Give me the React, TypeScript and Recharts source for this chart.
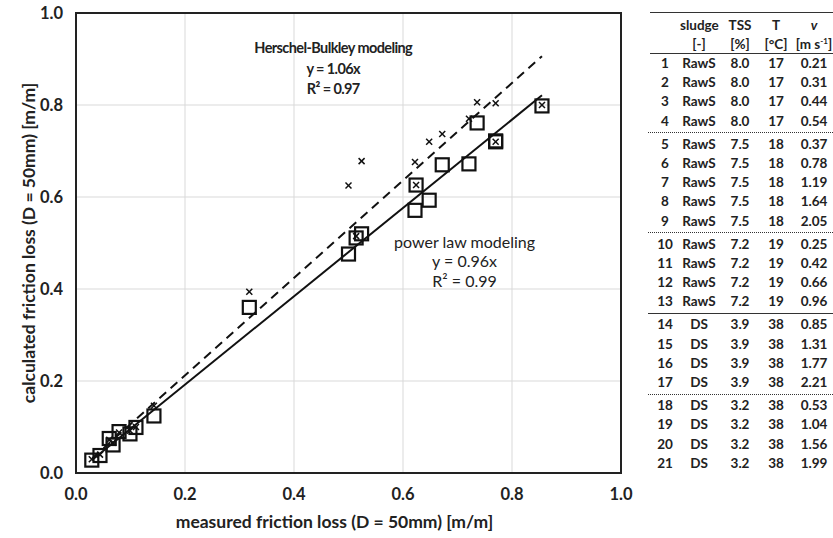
import React from 'react';
import {
  ComposedChart,
  Scatter,
  XAxis,
  YAxis,
  CartesianGrid,
  ReferenceLine,
  ReferenceArea,
  ReferenceDot,
  Label,
} from 'recharts';

// ---------- chart data ----------
const measured = [0.029, 0.044, 0.061, 0.068, 0.079, 0.099, 0.11, 0.143, 0.318, 0.5, 0.514, 0.524, 0.622, 0.624, 0.648, 0.672, 0.721, 0.736, 0.77, 0.77, 0.855];
const powerLaw = [0.028, 0.038, 0.075, 0.061, 0.09, 0.085, 0.099, 0.124, 0.36, 0.476, 0.511, 0.52, 0.571, 0.626, 0.593, 0.67, 0.672, 0.761, 0.72, 0.722, 0.798];
const herschel = [0.03, 0.04, 0.072, 0.066, 0.088, 0.092, 0.1, 0.146, 0.394, 0.625, 0.515, 0.678, 0.676, 0.626, 0.72, 0.737, 0.77, 0.806, 0.804, 0.72, 0.8];

const hbFitX = [0.03, 0.855];
const hbFitY = [0.032, 0.906];
const plFitX = [0.03, 0.855];
const plFitY = [0.029, 0.821];

const axisTicks = [0, 0.2, 0.4, 0.6, 0.8, 1.0];

const hbTitle = 'Herschel-Bulkley modeling';
const hbEq = 'y = 1.06x';
const hbR2 = 'R\u00b2 = 0.97';
const plTitle = 'power law modeling';
const plEq = 'y = 0.96x';
const plR2 = 'R\u00b2 = 0.99';

const xTitle = 'measured friction loss (D = 50mm) [m/m]';
const yTitle = 'calculated friction loss (D = 50mm) [m/m]';

// ---------- table data ----------
const rowNo = ['1', '2', '3', '4', '5', '6', '7', '8', '9', '10', '11', '12', '13', '14', '15', '16', '17', '18', '19', '20', '21'];
const sludge = ['RawS', 'RawS', 'RawS', 'RawS', 'RawS', 'RawS', 'RawS', 'RawS', 'RawS', 'RawS', 'RawS', 'RawS', 'RawS', 'DS', 'DS', 'DS', 'DS', 'DS', 'DS', 'DS', 'DS'];
const tss = ['8.0', '8.0', '8.0', '8.0', '7.5', '7.5', '7.5', '7.5', '7.5', '7.2', '7.2', '7.2', '7.2', '3.9', '3.9', '3.9', '3.9', '3.2', '3.2', '3.2', '3.2'];
const temp = ['17', '17', '17', '17', '18', '18', '18', '18', '18', '19', '19', '19', '19', '38', '38', '38', '38', '38', '38', '38', '38'];
const velocity = ['0.21', '0.31', '0.44', '0.54', '0.37', '0.78', '1.19', '1.64', '2.05', '0.25', '0.42', '0.66', '0.96', '0.85', '1.31', '1.77', '2.21', '0.53', '1.04', '1.56', '1.99'];
const groupEnds = [4, 9, 13, 17];
const groupStyles = ['dotted', 'dotted', 'solid', 'dotted'];

const FONT = 'Lato, "Open Sans", sans-serif';
const INK = '#222';

const SquareShape = (props: any) => {
  const { cx, cy } = props;
  if (cx == null || cy == null) return null;
  return <rect x={cx - 6.5} y={cy - 6.5} width={13} height={13} fill="none" stroke="#111" strokeWidth={2.2} />;
};

const CrossShape = (props: any) => {
  const { cx, cy } = props;
  if (cx == null || cy == null) return null;
  const s = 3;
  return (
    <g stroke="#111" strokeWidth={1.5}>
      <line x1={cx - s} y1={cy - s} x2={cx + s} y2={cy + s} />
      <line x1={cx - s} y1={cy + s} x2={cx + s} y2={cy - s} />
    </g>
  );
};

const makeNote = (lines: string[], weight: string | number, size: number, gap: number, spacing: number) => (p: any) => {
  const vb = p.viewBox || {};
  const cx = (vb.x || 0) + (vb.width || 0) / 2;
  const cy = (vb.y || 0) + (vb.height || 0) / 2;
  return (
    <g>
      {lines.map((t, i) => (
        <text
          key={i}
          x={cx}
          y={cy + i * gap}
          textAnchor="middle"
          dominantBaseline="central"
          fontFamily={FONT}
          fontWeight={weight}
          fontSize={size}
          letterSpacing={spacing}
          fill={INK}
        >
          {t}
        </text>
      ))}
    </g>
  );
};

const XTitle = (p: any) => {
  const vb = p.viewBox || {};
  return (
    <text
      x={vb.x + vb.width / 2 - 14}
      y={vb.y + 55}
      textAnchor="middle"
      fontFamily={FONT}
      fontWeight={700}
      fontSize={17.5}
      fill={INK}
    >
      {xTitle}
    </text>
  );
};

const YTitle = (p: any) => {
  const vb = p.viewBox || {};
  const cx = 28;
  const cy = vb.y + vb.height / 2;
  return (
    <text
      x={cx}
      y={cy}
      transform={`rotate(-90, ${cx}, ${cy})`}
      textAnchor="middle"
      dominantBaseline="central"
      fontFamily={FONT}
      fontWeight={700}
      fontSize={17.5}
      fill={INK}
    >
      {yTitle}
    </text>
  );
};

const Cell = ({ w, children, style }: any) => (
  <div style={{ width: w, textAlign: 'center', flex: 'none', whiteSpace: 'nowrap', ...style }}>{children}</div>
);

const COLS = [10, 30, 38, 44, 28, 48];

const Row = ({ cells, height, style }: any) => (
  <div style={{ display: 'flex', height, lineHeight: `${height}px`, ...style }}>
    <Cell w={COLS[0]} />
    {cells.map((c: any, i: number) => (
      <Cell key={i} w={COLS[i + 1]}>
        {c}
      </Cell>
    ))}
  </div>
);

const DataTable = () => {
  const items: any[] = [];
  rowNo.forEach((n, i) => {
    items.push(<Row key={`r${i}`} height={19.2} cells={[n, sludge[i], tss[i], temp[i], velocity[i]]} />);
    const g = groupEnds.indexOf(i + 1);
    if (g >= 0) {
      items.push(
        <div key={`s${i}`} style={{ height: 4, position: 'relative' }}>
          <div
            style={{
              position: 'absolute',
              left: 8,
              right: 0,
              top: 1.5,
              borderTop: `1.5px ${groupStyles[g]} #333`,
            }}
          />
        </div>
      );
    }
  });
  return (
    <div
      style={{
        position: 'absolute',
        left: 640,
        top: 0,
        width: 193,
        height: 538,
        overflow: 'hidden',
        fontFamily: FONT,
        fontSize: 13.5,
        fontWeight: 700,
        color: INK,
      }}
    >
      <div style={{ position: 'absolute', left: 10, right: 0, top: 12, borderTop: '1.5px solid #333' }} />
      <div style={{ position: 'absolute', left: 0, top: 15, width: 193 }}>
        <Row height={20} cells={['', 'sludge', 'TSS', 'T', <i key="v">v</i>]} />
        <Row
          height={19}
          cells={[
            '',
            '[-]',
            '[%]',
            '[\u00b0C]',
            <span key="u">
              [m s<sup style={{ fontSize: 8, lineHeight: 0 }}>-1</sup>]
            </span>,
          ]}
        />
      </div>
      <div style={{ position: 'absolute', left: 10, right: 0, top: 52.5, borderTop: '1.5px solid #333' }} />
      <div style={{ position: 'absolute', left: 0, top: 54, width: 193 }}>{items}</div>
    </div>
  );
};

export default function App() {
  const plData = measured.map((x, i) => ({ x, y: powerLaw[i] }));
  const hbData = measured.map((x, i) => ({ x, y: herschel[i] }));
  const fmt = (v: number) => v.toFixed(1);
  const tickStyle = { fontFamily: FONT, fontWeight: 700, fontSize: 16.5, fill: INK };

  return (
    <div style={{ position: 'absolute', left: 0, top: 0, width: 833, height: 538, background: '#fff', overflow: 'hidden' }}>
      <div style={{ position: 'absolute', left: 0, top: 0 }}>
        <ComposedChart width={640} height={538} margin={{ top: 13, right: 19, bottom: 0, left: 0 }}>
          <CartesianGrid stroke="#d9d9d9" strokeWidth={1} />
          <XAxis
            type="number"
            dataKey="x"
            domain={[0, 1]}
            ticks={axisTicks}
            tickFormatter={fmt}
            height={65}
            tickLine={false}
            tickSize={0}
            tickMargin={15}
            axisLine={{ stroke: '#222', strokeWidth: 2 }}
            tick={tickStyle}
            allowDataOverflow
          >
            <Label content={XTitle} />
          </XAxis>
          <YAxis
            type="number"
            dataKey="y"
            domain={[0, 1]}
            ticks={axisTicks}
            tickFormatter={fmt}
            width={76}
            tickLine={false}
            tickSize={0}
            tickMargin={13}
            axisLine={{ stroke: '#222', strokeWidth: 2 }}
            tick={tickStyle}
            allowDataOverflow
          >
            <Label content={YTitle} />
          </YAxis>
          <ReferenceArea x1={0} x2={1} y1={0} y2={1} fill="none" stroke="#222" strokeWidth={2} ifOverflow="visible" />
          <ReferenceLine
            segment={[
              { x: hbFitX[0], y: hbFitY[0] },
              { x: hbFitX[1], y: hbFitY[1] },
            ]}
            stroke="#111"
            strokeWidth={2}
            strokeDasharray="9 6"
            ifOverflow="visible"
          />
          <ReferenceLine
            segment={[
              { x: plFitX[0], y: plFitY[0] },
              { x: plFitX[1], y: plFitY[1] },
            ]}
            stroke="#111"
            strokeWidth={2}
            ifOverflow="visible"
          />
          <Scatter data={plData} shape={SquareShape} isAnimationActive={false} />
          <Scatter data={hbData} shape={CrossShape} isAnimationActive={false} />
          <ReferenceDot
            x={0.472}
            y={0.924}
            r={1}
            fill="none"
            stroke="none"
            ifOverflow="visible"
            label={<Label content={makeNote([hbTitle, hbEq, hbR2], 700, 14.5, 20.5, -0.6)} />}
          />
          <ReferenceDot
            x={0.713}
            y={0.504}
            r={1}
            fill="none"
            stroke="none"
            ifOverflow="visible"
            label={<Label content={makeNote([plTitle, plEq, plR2], 400, 16, 19.5, 0)} />}
          />
        </ComposedChart>
      </div>
      <DataTable />
    </div>
  );
}
